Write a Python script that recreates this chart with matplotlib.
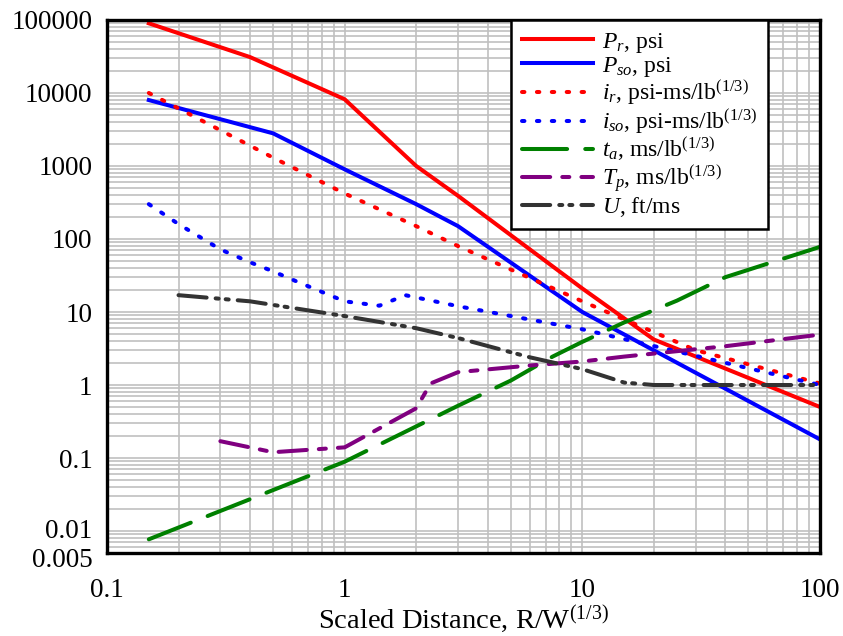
import matplotlib
matplotlib.use("Agg")
import matplotlib.pyplot as plt
import matplotlib.transforms as mtransforms
from matplotlib.ticker import FixedLocator, LogLocator, NullFormatter

plt.rcParams['font.family'] = ['Liberation Serif', 'DejaVu Serif']
plt.rcParams['mathtext.fontset'] = 'custom'
plt.rcParams['mathtext.rm'] = 'Liberation Serif'
plt.rcParams['mathtext.it'] = 'Liberation Serif:italic'

# values
pr_x = [0.15, 0.4, 1, 2, 3, 10, 20, 100]
pr_y = [90000, 31000, 8200, 1000, 390, 21, 4.2, 0.5]

pso_x = [0.15, 0.5, 1, 2, 3, 10, 100]
pso_y = [8000, 2800, 900, 300, 150, 10, 0.18]

ir_x = [0.15, 0.5, 1, 2, 3, 10, 30, 100]
ir_y = [10000, 1300, 420, 150, 80, 14, 3.0, 1.05]

iso_x = [0.15, 0.2, 0.3, 0.4, 0.5, 0.65, 1, 1.4, 1.8, 3, 10, 100]
iso_y = [300, 160, 72, 48, 36, 25, 14, 12.2, 17, 12, 5.8, 1.0]

ta_x = [0.15, 1, 3, 5, 7.5, 10, 15, 25, 40, 100]
ta_y = [0.0077, 0.089, 0.52, 1.15, 2.45, 3.9, 7.2, 14.3, 30, 78]

tp_x = [0.3, 0.5, 1, 2, 2.3, 3, 6, 10, 15, 40, 100]
tp_y = [0.17, 0.12, 0.14, 0.48, 1.05, 1.5, 1.85, 2.1, 2.45, 3.4, 4.9]

u_x = [0.2, 0.4, 1, 2, 3, 6, 10, 15, 20, 100]
u_y = [17, 14, 8.8, 6.0, 4.4, 2.4, 1.65, 1.08, 1.0, 1.0]

y_ticks = [0.005, 0.01, 0.1, 1, 10, 100, 1000, 10000, 100000]
y_labels = ["0.005", "0.01", "0.1", "1", "10", "100", "1000", "10000", "100000"]
x_ticks = [0.1, 1, 10, 100]
x_labels = ["0.1", "1", "10", "100"]

fig = plt.figure(figsize=(8.43, 6.36), dpi=100)
ax = fig.add_axes([0.1269, 0.1305, 0.8458, 0.8381])

lw = 2.9
ax.plot(pr_x, pr_y, color='#ff0000', lw=lw, label=r'$P_r$, psi')
ax.plot(pso_x, pso_y, color='#0000ff', lw=lw, label=r'$P_{so}$, psi')
ax.plot(ir_x, ir_y, color='#ff0000', lw=lw, dashes=(0.6, 3.1), dash_capstyle='round',
        label=r'$i_r$, psi-ms/lb$^{(1/3)}$')
ax.plot(iso_x, iso_y, color='#0000ff', lw=lw, dashes=(0.6, 3.1), dash_capstyle='round',
        label=r'$i_{so}$, psi-ms/lb$^{(1/3)}$')
ax.plot(ta_x, ta_y, color='#008000', lw=lw, dashes=(11.2, 4.5), dash_capstyle='round',
        label=r'$t_a$, ms/lb$^{(1/3)}$')
ax.plot(tp_x, tp_y, color='#800080', lw=lw, dashes=(7, 3, 1.75, 3), dash_capstyle='round',
        label=r'$T_p$, ms/lb$^{(1/3)}$')
ax.plot(u_x, u_y, color='#333333', lw=lw, dashes=(7, 2.25, 0.75, 1.75, 0.75, 2.25),
        dash_capstyle='round', label=r'$U$, ft/ms')

ax.set_xscale('log')
ax.set_yscale('log')
ax.set_xlim(0.1, 100)
ax.set_ylim(0.005, 100000)

ax.xaxis.set_major_locator(FixedLocator(x_ticks))
ax.set_xticklabels(x_labels)
ax.yaxis.set_major_locator(FixedLocator(y_ticks))
ax.set_yticklabels(y_labels)
ax.xaxis.set_minor_locator(LogLocator(base=10, subs=range(2, 10), numticks=20))
ax.yaxis.set_minor_locator(LogLocator(base=10, subs=range(2, 10), numticks=20))
ax.xaxis.set_minor_formatter(NullFormatter())
ax.yaxis.set_minor_formatter(NullFormatter())

ax.tick_params(axis='both', which='both', length=0, labelsize=19.5)
ax.tick_params(axis='x', pad=18)
ax.tick_params(axis='y', pad=10.5)

# the two lowest y labels sit very close together, nudge them apart a bit
ylabs = ax.get_yticklabels()
ylabs[0].set_transform(ylabs[0].get_transform() +
                       mtransforms.ScaledTranslation(0, -3 / 72, fig.dpi_scale_trans))
ylabs[1].set_transform(ylabs[1].get_transform() +
                       mtransforms.ScaledTranslation(0, 2 / 72, fig.dpi_scale_trans))

ax.grid(True, which='both', color='#c0c0c0', lw=1.2)
ax.set_axisbelow(True)
for s in ax.spines.values():
    s.set_linewidth(2.4)

ax.set_xlabel(r'Scaled Distance, R/W$^{(1/3)}$', fontsize=20.5, labelpad=0)

leg = ax.legend(loc='upper right', bbox_to_anchor=(0.927, 1.0), borderaxespad=0,
                fontsize=17, fancybox=False, framealpha=1, edgecolor='black',
                handlelength=3.0, labelspacing=0.0, borderpad=0.45, handletextpad=0.4)
leg.get_frame().set_linewidth(1.8)

plt.savefig("out.png", dpi=100)
